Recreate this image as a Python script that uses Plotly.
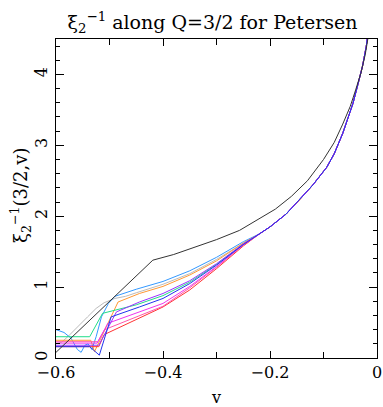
import plotly.graph_objects as go

# shared right-hand part of all coloured curves (they coincide for v > -0.22)
tail_v = [-0.22, -0.2, -0.17, -0.145, -0.12, -0.094, -0.08, -0.064, -0.055, -0.045, -0.035, -0.027, -0.02, -0.015, -0.01]
tail_y = [1.75, 1.85, 2.03, 2.23, 2.44, 2.69, 2.88, 3.17, 3.36, 3.59, 3.88, 4.12, 4.40, 4.65, 5.0]

gray_v = [-0.6, -0.59, -0.578, -0.56, -0.541, -0.525, -0.51, -0.49, -0.47, -0.45, -0.4, -0.35, -0.3, -0.25]
gray_y = [0.20, 0.22, 0.30, 0.43, 0.58, 0.70, 0.78, 0.84, 0.87, 0.92, 1.04, 1.19, 1.39, 1.62]

lblue_v = [-0.6, -0.585, -0.572, -0.56, -0.553, -0.546, -0.54, -0.533, -0.525, -0.515, -0.502, -0.49, -0.45, -0.4, -0.35, -0.3, -0.25]
lblue_y = [0.40, 0.36, 0.28, 0.12, 0.08, 0.18, 0.20, 0.12, 0.30, 0.58, 0.77, 0.87, 0.97, 1.08, 1.23, 1.42, 1.64]

orange_v = [-0.6, -0.535, -0.528, -0.484, -0.444, -0.4, -0.35, -0.3, -0.25]
orange_y = [0.25, 0.25, 0.09, 0.79, 0.91, 1.01, 1.17, 1.37, 1.62]

green_v = [-0.6, -0.537, -0.513, -0.45, -0.4, -0.35, -0.3, -0.25]
green_y = [0.30, 0.30, 0.63, 0.75, 0.88, 1.07, 1.32, 1.60]

purple_v = [-0.6, -0.52, -0.487, -0.444, -0.4, -0.35, -0.3, -0.25]
purple_y = [0.18, 0.18, 0.65, 0.79, 0.91, 1.09, 1.33, 1.61]

blue_v = [-0.6, -0.537, -0.519, -0.497, -0.444, -0.4, -0.35, -0.3, -0.25]
blue_y = [0.16, 0.16, 0.04, 0.58, 0.72, 0.84, 1.05, 1.31, 1.60]

magenta_v = [-0.6, -0.523, -0.503, -0.444, -0.4, -0.35, -0.3, -0.25]
magenta_y = [0.21, 0.21, 0.49, 0.65, 0.77, 1.01, 1.29, 1.60]

pink_v = [-0.6, -0.522, -0.509, -0.444, -0.4, -0.35, -0.3, -0.25]
pink_y = [0.23, 0.23, 0.40, 0.60, 0.73, 0.99, 1.28, 1.59]

red_v = [-0.6, -0.52, -0.51, -0.444, -0.4, -0.35, -0.3, -0.25]
red_y = [0.16, 0.16, 0.33, 0.56, 0.72, 0.96, 1.26, 1.58]

black_v = [-0.6, -0.419, -0.38, -0.34, -0.3, -0.257, -0.22, -0.19, -0.16, -0.13, -0.1, -0.08, -0.064, -0.05, -0.04, -0.03, -0.022, -0.016, -0.011]
black_y = [0.08, 1.38, 1.46, 1.56, 1.67, 1.80, 1.96, 2.10, 2.28, 2.50, 2.80, 3.04, 3.30, 3.55, 3.78, 4.02, 4.28, 4.55, 4.9]

curves = [
    (gray_v, gray_y, "#bbbbbb"),
    (lblue_v, lblue_y, "#3399ff"),
    (orange_v, orange_y, "#ff9933"),
    (green_v, green_y, "#22dd88"),
    (red_v, red_y, "#ff3333"),
    (pink_v, pink_y, "#ff55aa"),
    (magenta_v, magenta_y, "#ee33ee"),
    (purple_v, purple_y, "#9933ff"),
    (blue_v, blue_y, "#2233ee"),
]

fig = go.Figure()
for v, y, col in curves:
    fig.add_trace(go.Scatter(x=v + tail_v, y=y + tail_y, mode="lines",
                             line=dict(color=col, width=1), showlegend=False))
fig.add_trace(go.Scatter(x=black_v, y=black_y, mode="lines",
                         line=dict(color="#333333", width=1), showlegend=False))

serif = "DejaVu Serif"
axis = dict(showline=True, linecolor="black", linewidth=1, mirror="allticks",
            ticks="inside", tickcolor="black", showgrid=False, zeroline=False,
            automargin=False, ticklabeloverflow="allow",
            tickfont=dict(family=serif, size=16, color="black"))

fig.update_layout(
    width=383, height=407,
    paper_bgcolor="white", plot_bgcolor="white",
    margin=dict(l=56, r=6, t=39, b=49),
    title=dict(text="ξ<sub>2</sub><sup>−1</sup> along Q=3/2 for Petersen",
               font=dict(family=serif, size=19, color="black"),
               x=0.555, xanchor="center", y=0.945, yanchor="middle"),
    xaxis=dict(axis, range=[-0.6, 0], dtick=0.2, ticklen=7,
               minor=dict(dtick=0.1, ticklen=6, ticks="inside", tickcolor="black"),
               title=dict(text="v", font=dict(family=serif, size=16, color="black"))),
    yaxis=dict(axis, range=[0, 4.5], dtick=1, ticklen=8, tickangle=-90,
               ticklabelstandoff=2,
               minor=dict(dtick=0.2, ticklen=4, ticks="inside", tickcolor="black")),
    annotations=[dict(text="ξ<sub>2</sub><sup>−1</sup>(3/2,v)", textangle=-90,
                      xref="paper", yref="paper", x=-0.11, y=0.51,
                      xanchor="center", yanchor="middle", showarrow=False,
                      font=dict(family=serif, size=18, color="black"))],
)

# the page body has a default 8px margin; drop it so the figure sits at 0,0
fig.write_html("out.html", config={"displayModeBar": False},
               post_script="document.body.style.margin='0';")
